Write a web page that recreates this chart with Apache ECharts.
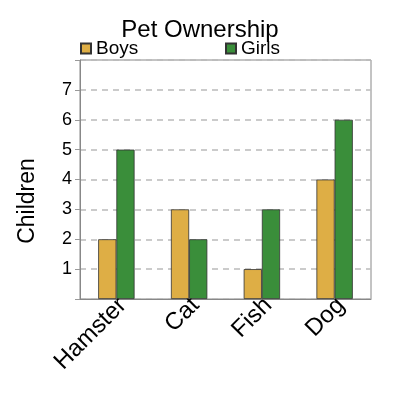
<!DOCTYPE html>
<html><head><meta charset="utf-8">
<script src="https://cdn.jsdelivr.net/npm/echarts@6/dist/echarts.min.js"></script>
<style>html,body{margin:0;padding:0;background:#fff}#c{width:400px;height:400px}</style>
</head><body><div id="c"></div>
<script>
const categories = ['Hamster','Cat','Fish','Dog'];
const boys = [2,3,1,4];
const girls = [5,2,3,6];
const yTicks = [1,2,3,4,5,6,7];
const chart = echarts.init(document.getElementById('c'));
const font = 'Liberation Sans, Arial, sans-serif';
chart.setOption({
  animation:false,
  title:{text:'Pet Ownership',left:'center',top:13,textStyle:{fontFamily:font,fontSize:24,fontWeight:'normal',color:'#000'}},
  legend:[
    {data:['Boys'],left:80,top:39,padding:0,itemWidth:10,itemHeight:10,itemGap:4,icon:'rect',textStyle:{fontFamily:font,fontSize:19,color:'#000'}},
    {data:['Girls'],left:225,top:39,padding:0,itemWidth:10,itemHeight:10,itemGap:4,icon:'rect',textStyle:{fontFamily:font,fontSize:19,color:'#000'}}
  ],
  graphic:[{type:'text',x:16,y:201,rotation:Math.PI/2,style:{text:'Children',font:'23px '+font,fill:'#000',textAlign:'center',textVerticalAlign:'top'}}],
  grid:{left:80,right:29,top:60,bottom:101,show:true,borderColor:'#888',borderWidth:1,backgroundColor:'transparent'},
  xAxis:{type:'category',data:categories,axisTick:{show:false},
    axisLine:{lineStyle:{color:'#888'}},
    axisLabel:{rotate:45,fontFamily:font,fontSize:24,color:'#000',margin:9,padding:[12,-9,0,0]}},
  yAxis:{type:'value',min:0,max:8,interval:1,
    axisLine:{show:true,lineStyle:{color:'#888'}},
    axisTick:{show:true,length:5,lineStyle:{color:'#999'}},
    axisLabel:{fontFamily:font,fontSize:18,color:'#000',margin:8,formatter:v=>yTicks.includes(v)?String(v):''},
    splitLine:{lineStyle:{type:[6,5],color:'#bbb',width:1.5}}},
  series:[
    {name:'Boys',type:'bar',data:boys,barGap:'0%',barCategoryGap:'50%',itemStyle:{color:'#deae45',borderColor:'#333',borderWidth:0.8}},
    {name:'Girls',type:'bar',data:girls,itemStyle:{color:'#3a8e3a',borderColor:'#333',borderWidth:0.8}}
  ]
});
</script></body></html>
